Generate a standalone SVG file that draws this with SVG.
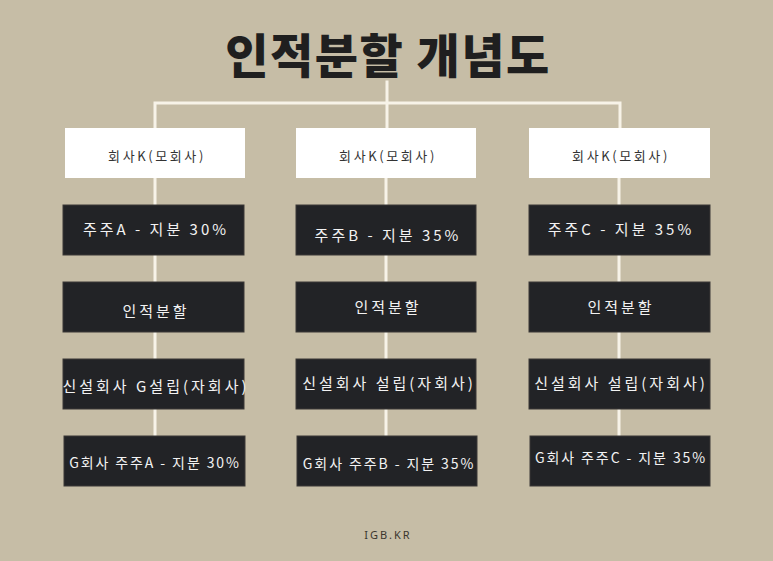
<svg xmlns="http://www.w3.org/2000/svg" width="773" height="561" viewBox="0 0 773 561">
<style>
.bg{fill:#c6bda6}
.lk{stroke:#f7f3e8;stroke-width:3;fill:none;stroke-linecap:square}
.wb{fill:#ffffff}
.db{fill:#222326;stroke:#3a3936;stroke-width:1}
.wt{font-family:"Noto Sans CJK KR","Noto Sans",sans-serif;font-size:13px;fill:#333;letter-spacing:2.6px;text-anchor:middle;dominant-baseline:central}
.dt{font-family:"Noto Sans CJK KR","Noto Sans",sans-serif;font-size:15px;fill:#f2f2f2;letter-spacing:3px;text-anchor:middle;dominant-baseline:central}
.gt{font-size:14px;letter-spacing:1.9px}
.title{font-family:"Noto Sans CJK KR","Noto Sans",sans-serif;font-size:47px;font-weight:900;fill:#1f1f1f;text-anchor:middle;letter-spacing:1.5px}
.foot{font-family:"Noto Sans","Liberation Sans",sans-serif;font-size:11px;fill:#3a362e;letter-spacing:2px;text-anchor:middle}
</style>
<rect class="bg" x="0" y="0" width="773" height="561"/>
<text class="title" x="388" y="73">인적분할 개념도</text>
<g id="connectors">
<path class="lk" d="M387 82V103M155 103H620M155 103V128M387 103V128M620 103V128"/>
<path class="lk" d="M155 178V205M155 255V282M155 332V359M155 409V436"/>
<path class="lk" d="M386 178V205M386 255V282M386 332V359M386 409V436"/>
<path class="lk" d="M619 178V205M619 255V282M619 332V359M619 409V436"/>
</g>
<g id="k1"><rect class="wb" x="65" y="128" width="180" height="50"/><text class="wt" x="157" y="155">회사K(모회사)</text></g>
<g id="k2"><rect class="wb" x="296" y="128" width="180" height="50"/><text class="wt" x="388" y="155">회사K(모회사)</text></g>
<g id="k3"><rect class="wb" x="529" y="128" width="181" height="50"/><text class="wt" x="621" y="155">회사K(모회사)</text></g>
<g id="sA"><rect class="db" x="63" y="205" width="181" height="50"/><text class="dt" x="156" y="228">주주A - 지분 30%</text></g>
<g id="sB"><rect class="db" x="296" y="205" width="180" height="50"/><text class="dt" x="388" y="234">주주B - 지분 35%</text></g>
<g id="sC"><rect class="db" x="529" y="205" width="181" height="50"/><text class="dt" x="621" y="228">주주C - 지분 35%</text></g>
<g id="d1"><rect class="db" x="63" y="282" width="181" height="50"/><text class="dt" x="156" y="310">인적분할</text></g>
<g id="d2"><rect class="db" x="296" y="282" width="180" height="50"/><text class="dt" x="388" y="306">인적분할</text></g>
<g id="d3"><rect class="db" x="529" y="282" width="181" height="50"/><text class="dt" x="621" y="306">인적분할</text></g>
<g id="n1"><rect class="db" x="63" y="359" width="181" height="50"/><text class="dt" x="156" y="385">신설회사 G설립(자회사)</text></g>
<g id="n2"><rect class="db" x="296" y="359" width="180" height="50"/><text class="dt" x="389" y="382">신설회사 설립(자회사)</text></g>
<g id="n3"><rect class="db" x="529" y="359" width="181" height="50"/><text class="dt" x="621" y="382">신설회사 설립(자회사)</text></g>
<g id="gA"><rect class="db" x="64" y="436" width="181" height="50"/><text class="dt gt" x="155" y="462">G회사 주주A - 지분 30%</text></g>
<g id="gB"><rect class="db" x="297" y="436" width="180" height="50"/><text class="dt gt" x="389" y="463">G회사 주주B - 지분 35%</text></g>
<g id="gC"><rect class="db" x="530" y="436" width="180" height="50"/><text class="dt gt" x="621" y="457">G회사 주주C - 지분 35%</text></g>
<text class="foot" x="388" y="539">IGB.KR</text>
</svg>
